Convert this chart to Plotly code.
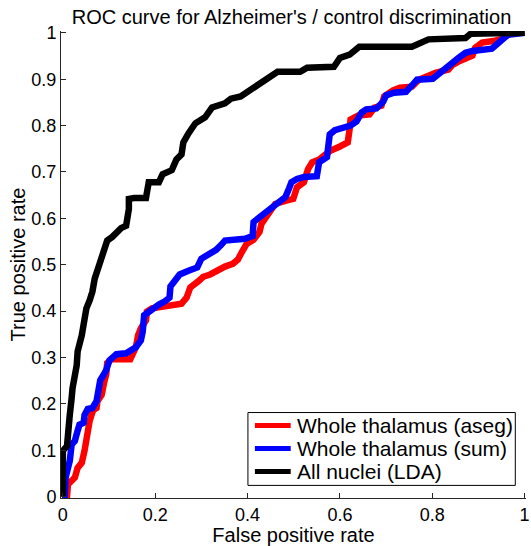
import plotly.graph_objects as go

# False positive rate / true positive rate
aseg_fpr = [0.0, 0.009, 0.011, 0.019, 0.026, 0.032, 0.041, 0.047, 0.051, 0.054, 0.058, 0.062, 0.066, 0.073,
            0.075, 0.084, 0.086, 0.090, 0.094, 0.096, 0.105, 0.146, 0.152, 0.158, 0.163, 0.169, 0.180, 0.182,
            0.193, 0.208, 0.236, 0.257, 0.268, 0.276, 0.293, 0.304, 0.319, 0.332, 0.351, 0.368, 0.379, 0.388,
            0.398, 0.413, 0.426, 0.430, 0.441, 0.450, 0.460, 0.480, 0.499, 0.507, 0.522, 0.531, 0.540, 0.555,
            0.578, 0.600, 0.617, 0.621, 0.623, 0.640, 0.664, 0.675, 0.690, 0.696, 0.715, 0.730, 0.756, 0.771,
            0.786, 0.807, 0.835, 0.844, 0.857, 0.872, 0.887, 0.893, 0.908, 0.936, 0.951, 0.964, 0.974, 1.0]
aseg_tpr = [0.0, 0.0, 0.026, 0.034, 0.041, 0.062, 0.073, 0.099, 0.127, 0.148, 0.163, 0.176, 0.187, 0.191,
            0.206, 0.219, 0.234, 0.249, 0.264, 0.288, 0.296, 0.296, 0.309, 0.322, 0.348, 0.363, 0.380, 0.399,
            0.406, 0.408, 0.410, 0.416, 0.429, 0.451, 0.464, 0.474, 0.479, 0.487, 0.496, 0.502, 0.511, 0.528,
            0.545, 0.554, 0.571, 0.588, 0.603, 0.618, 0.631, 0.637, 0.642, 0.667, 0.678, 0.706, 0.721, 0.727,
            0.745, 0.755, 0.764, 0.792, 0.813, 0.822, 0.824, 0.839, 0.843, 0.863, 0.876, 0.882, 0.884, 0.899,
            0.906, 0.914, 0.921, 0.931, 0.938, 0.944, 0.951, 0.968, 0.979, 0.983, 0.987, 0.996, 1.0, 1.0]

sum_fpr = [0.0, 0.004, 0.006, 0.015, 0.019, 0.026, 0.032, 0.036, 0.045, 0.047, 0.054, 0.064, 0.073, 0.075,
           0.081, 0.088, 0.094, 0.101, 0.116, 0.137, 0.148, 0.158, 0.169, 0.173, 0.176, 0.186, 0.197, 0.208,
           0.221, 0.231, 0.233, 0.244, 0.253, 0.272, 0.291, 0.300, 0.315, 0.332, 0.343, 0.351, 0.394, 0.411,
           0.413, 0.428, 0.439, 0.452, 0.469, 0.482, 0.490, 0.495, 0.507, 0.522, 0.550, 0.555, 0.572, 0.578,
           0.589, 0.608, 0.623, 0.636, 0.647, 0.657, 0.679, 0.694, 0.700, 0.717, 0.743, 0.760, 0.767, 0.801,
           0.814, 0.829, 0.844, 0.857, 0.872, 0.887, 0.929, 0.942, 0.953, 0.964, 1.0]
sum_tpr = [0.0, 0.0, 0.041, 0.077, 0.112, 0.120, 0.142, 0.155, 0.159, 0.176, 0.189, 0.191, 0.206, 0.219,
           0.251, 0.262, 0.273, 0.294, 0.307, 0.309, 0.315, 0.322, 0.337, 0.356, 0.391, 0.399, 0.408, 0.414,
           0.421, 0.429, 0.453, 0.470, 0.479, 0.487, 0.494, 0.513, 0.521, 0.532, 0.543, 0.552, 0.556, 0.562,
           0.592, 0.603, 0.614, 0.624, 0.637, 0.646, 0.665, 0.678, 0.685, 0.689, 0.691, 0.721, 0.732, 0.781,
           0.790, 0.794, 0.800, 0.809, 0.828, 0.835, 0.837, 0.852, 0.865, 0.871, 0.873, 0.891, 0.899, 0.901,
           0.912, 0.925, 0.938, 0.946, 0.957, 0.961, 0.966, 0.976, 0.987, 0.996, 1.0]

lda_fpr = [0.0, 0.0, 0.009, 0.011, 0.015, 0.019, 0.021, 0.030, 0.032, 0.041, 0.047, 0.051, 0.058, 0.064,
           0.069, 0.079, 0.084, 0.090, 0.096, 0.107, 0.118, 0.126, 0.137, 0.143, 0.143, 0.154, 0.180, 0.186,
           0.208, 0.216, 0.236, 0.246, 0.257, 0.261, 0.272, 0.287, 0.308, 0.323, 0.351, 0.364, 0.385, 0.407,
           0.428, 0.450, 0.465, 0.514, 0.529, 0.587, 0.600, 0.621, 0.636, 0.642, 0.756, 0.779, 0.792, 0.872,
           0.883, 1.0]
lda_tpr = [0.0, 0.099, 0.109, 0.142, 0.176, 0.212, 0.234, 0.283, 0.313, 0.348, 0.384, 0.406, 0.423, 0.442,
           0.470, 0.498, 0.519, 0.534, 0.552, 0.560, 0.573, 0.579, 0.584, 0.620, 0.642, 0.644, 0.644, 0.678,
           0.678, 0.695, 0.704, 0.727, 0.738, 0.764, 0.783, 0.805, 0.818, 0.839, 0.848, 0.858, 0.863, 0.878,
           0.891, 0.910, 0.916, 0.916, 0.925, 0.927, 0.946, 0.953, 0.968, 0.970, 0.970, 0.979, 0.986, 0.989,
           0.998, 1.0]

series_names = ["Whole thalamus (aseg)", "Whole thalamus (sum)", "All nuclei (LDA)"]
series_colors = ["#ff0000", "#0000ff", "#000000"]

FONT = "Liberation Sans, Helvetica, Arial, sans-serif"

fig = go.Figure()
for name, xs, ys, col in zip(series_names, [aseg_fpr, sum_fpr, lda_fpr], [aseg_tpr, sum_tpr, lda_tpr], series_colors):
    fig.add_trace(go.Scatter(x=xs, y=ys, mode="lines", name=name, showlegend=False,
                             line=dict(color=col, width=6.5), cliponaxis=False))

# MATLAB-style compact legend box (layout in axis-domain fractions)
LEG_X0, LEG_X1, LEG_Y0, LEG_Y1 = 0.402, 0.977, 0.027, 0.183
LINE_X0, LINE_X1, TEXT_X = 0.417, 0.494, 0.503
ROW_Y = [0.155, 0.106, 0.057]
shapes = [dict(type="rect", xref="x domain", yref="y domain", x0=LEG_X0, x1=LEG_X1, y0=LEG_Y0, y1=LEG_Y1,
               line=dict(color="#000000", width=1), fillcolor="white", layer="above")]
annotations = []
for name, col, ry in zip(series_names, series_colors, ROW_Y):
    shapes.append(dict(type="line", xref="x domain", yref="y domain", x0=LINE_X0, x1=LINE_X1, y0=ry, y1=ry,
                       line=dict(color=col, width=5), layer="above"))
    annotations.append(dict(text=name, xref="x domain", yref="y domain", x=TEXT_X, y=ry,
                            xanchor="left", yanchor="middle", showarrow=False,
                            font=dict(size=21, family=FONT, color="#000000")))

fig.update_layout(
    width=531, height=546,
    margin=dict(l=61, r=1, t=31, b=46, pad=0),
    paper_bgcolor="white", plot_bgcolor="white",
    font=dict(family=FONT, size=18, color="#000000"),
    title=dict(text="ROC curve for Alzheimer's / control discrimination",
               font=dict(size=20, family=FONT, color="#000000"),
               x=0.549, xanchor="center", xref="container",
               y=1 - 17 / 546, yref="container", yanchor="middle"),
    showlegend=False,
    shapes=shapes,
    annotations=annotations,
    xaxis=dict(range=[-0.004, 1.003], tickmode="array",
               tickvals=[0, 0.2, 0.4, 0.6, 0.8, 1], ticktext=["0", "0.2", "0.4", "0.6", "0.8", "1"],
               ticks="inside", ticklen=5, tickcolor="#262626",
               showline=True, linecolor="#262626", linewidth=1, mirror=False,
               showgrid=False, zeroline=False, ticklabeloverflow="allow",
               tickfont=dict(size=18),
               title=dict(text="False positive rate", font=dict(size=20), standoff=6)),
    yaxis=dict(range=[-0.003, 1.004], tickmode="array",
               tickvals=[0, 0.1, 0.2, 0.3, 0.4, 0.5, 0.6, 0.7, 0.8, 0.9, 1],
               ticktext=["0", "0.1", "0.2", "0.3", "0.4", "0.5", "0.6", "0.7", "0.8", "0.9", "1"],
               ticks="inside", ticklen=5, tickcolor="#262626",
               showline=True, linecolor="#262626", linewidth=1, mirror=False,
               showgrid=False, zeroline=False, ticklabeloverflow="allow",
               tickfont=dict(size=18),
               title=dict(text="True positive rate", font=dict(size=20), standoff=0)),
)

fig.write_html("out.html", config={"displayModeBar": False},
               post_script="document.body.style.margin='0';document.body.style.padding='0';document.body.style.overflow='hidden';")
